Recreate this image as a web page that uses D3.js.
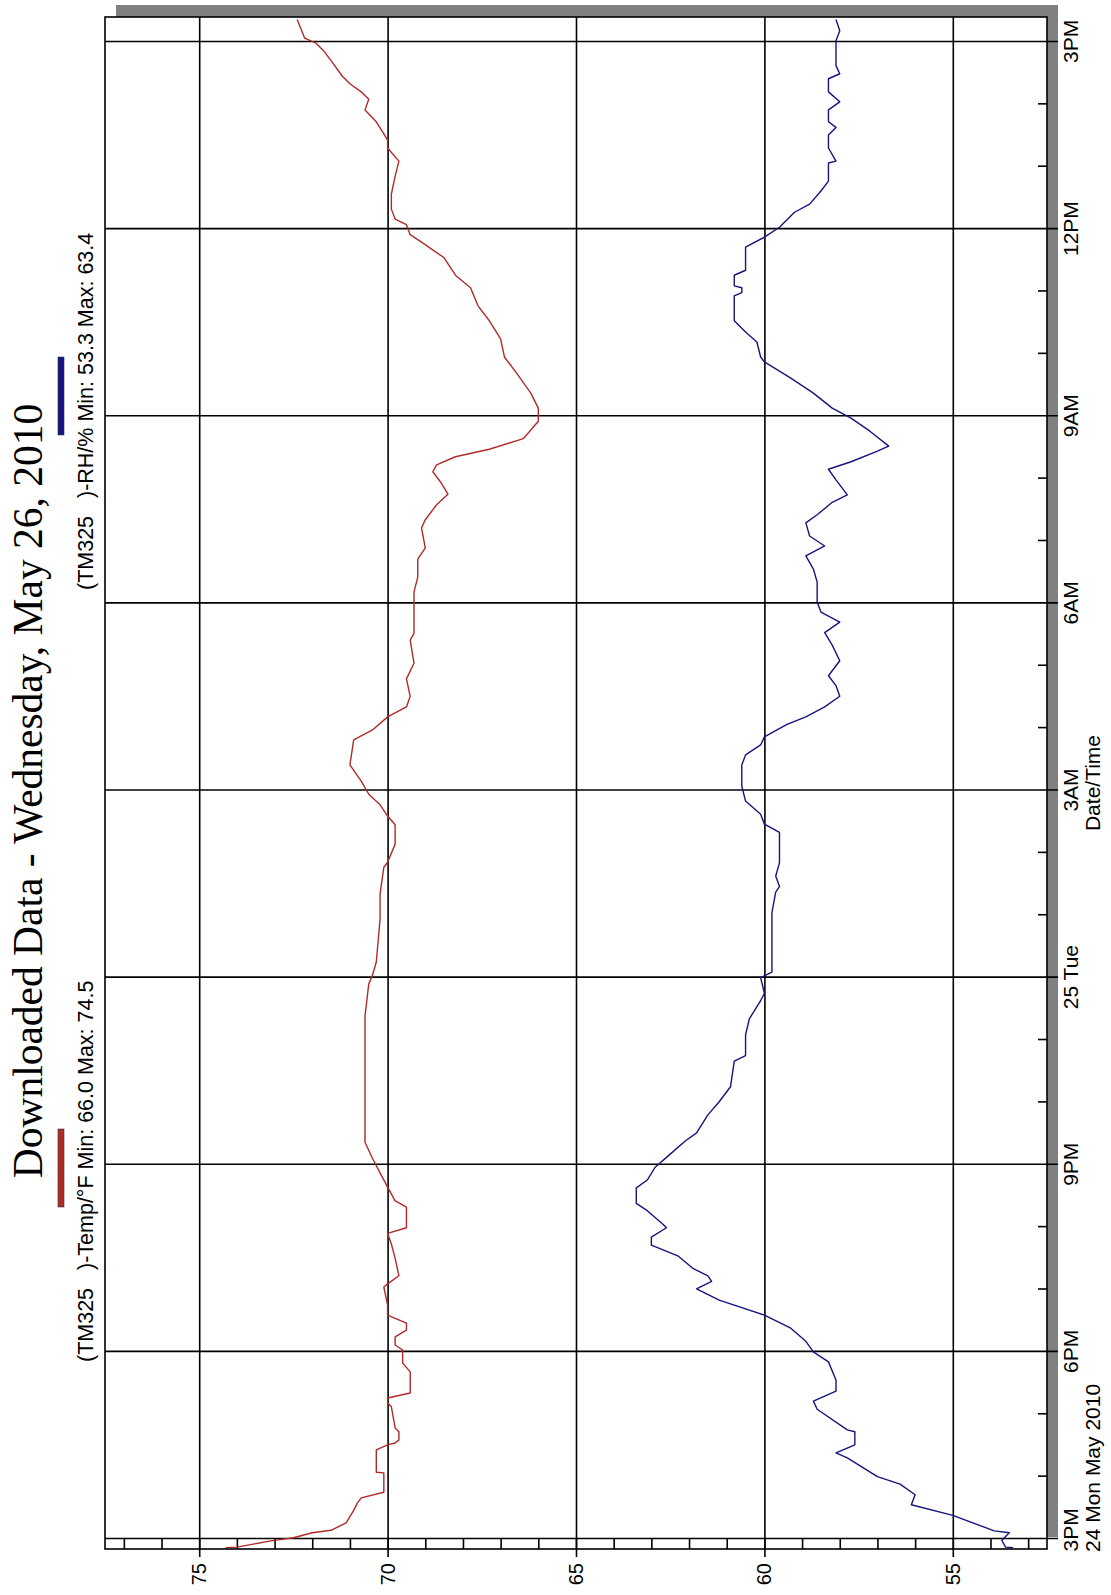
<!DOCTYPE html>
<html>
<head>
<meta charset="utf-8">
<script src="https://cdn.jsdelivr.net/npm/d3@7"></script>
<style>
  body { margin: 0; background: #fff; }
  svg { display: block; }
</style>
</head>
<body>
<div id="chart"></div>
<script>
// readings, hours after 3PM Mon 24 May 2010
const tempHours = [-0.14,-0.13,-0.03,0.02,0.10,0.14,0.26,0.46,0.58,0.66,
  0.75,1.06,1.07,1.43,1.51,1.54,1.59,1.72,1.78,2.12,
  2.18,2.26,2.34,2.68,2.82,3.03,3.11,3.24,3.35,3.46,
  3.59,3.75,4.04,4.09,4.22,4.50,4.73,4.90,4.99,5.32,
  5.42,5.64,5.87,6.10,6.36,7.70,8.38,8.90,9.04,9.25,
  9.94,10.34,10.77,10.85,11.14,11.45,11.59,11.77,11.94,12.15,
  12.41,12.81,12.97,13.18,13.34,13.51,13.79,14.04,14.41,14.52,
  14.97,15.18,15.42,15.71,15.89,16.21,16.34,16.58,16.75,16.95,
  17.11,17.22,17.35,17.47,17.64,17.92,18.13,18.37,18.71,18.95,
  19.24,19.53,19.77,20.06,20.26,20.54,20.79,20.91,21.07,21.16,
  21.32,21.56,21.85,22.09,22.30,22.43,22.72,22.91,23.08,23.20,
  23.33,23.45,23.70,23.86,23.98,24.06,24.36];
const tempValues = [74.3,74.0,73.1,72.5,72.0,71.5,71.1,70.9,70.8,70.7,
  70.1,70.1,70.3,70.3,70.0,69.8,69.7,69.7,69.8,69.9,
  70.0,70.0,69.4,69.4,69.6,69.6,69.8,69.8,69.5,69.5,
  70.0,70.0,70.1,70.0,69.7,69.8,69.9,70.0,69.5,69.5,
  69.8,70.0,70.2,70.4,70.6,70.6,70.6,70.5,70.4,70.3,
  70.2,70.2,70.1,70.0,69.8,69.8,70.0,70.2,70.5,70.7,
  71.0,70.9,70.4,70.0,69.5,69.4,69.5,69.3,69.4,69.3,
  69.3,69.3,69.2,69.2,69.0,69.1,69.0,68.7,68.4,68.6,
  68.8,68.7,68.2,67.3,66.4,66.0,66.0,66.2,66.6,66.9,
  67.0,67.3,67.6,67.8,68.2,68.5,69.1,69.4,69.5,69.8,
  69.9,69.9,69.8,69.7,70.0,70.0,70.3,70.6,70.5,70.7,
  71.0,71.2,71.5,71.7,71.9,72.2,72.4];

const rhHours = [-0.14,-0.13,-0.02,0.10,0.13,0.38,0.55,0.71,0.88,1.00,
  1.30,1.38,1.51,1.72,1.75,2.08,2.21,2.37,2.55,2.84,
  3.00,3.17,3.38,3.59,3.83,4.01,4.13,4.22,4.34,4.54,
  4.71,4.84,4.99,5.05,5.26,5.38,5.63,5.76,5.96,6.17,
  6.38,6.51,6.80,7.01,7.25,7.66,7.75,8.08,8.34,8.63,
  8.75,9.00,9.09,10.04,10.37,10.46,10.63,10.84,11.33,11.46,
  11.62,11.83,12.07,12.41,12.57,12.73,12.86,13.06,13.18,13.34,
  13.51,13.68,13.84,14.08,14.33,14.53,14.70,14.86,15.02,15.34,
  15.55,15.76,15.92,16.08,16.29,16.42,16.62,16.74,16.98,17.15,
  17.27,17.44,17.52,17.76,17.97,18.13,18.37,18.61,18.87,18.95,
  19.19,19.35,19.53,19.93,19.98,20.06,20.09,20.26,20.34,20.59,
  20.71,20.87,21.03,21.27,21.40,21.61,21.77,22.06,22.09,22.30,
  22.51,22.63,22.72,22.91,23.04,23.20,23.41,23.49,23.62,23.86,
  24.02,24.18,24.36];
const rhValues = [53.4,53.6,53.7,53.5,53.9,55.0,56.1,56.0,56.4,57.0,
  57.8,58.1,57.6,57.6,57.8,58.6,58.7,58.1,58.1,58.3,
  58.7,58.9,59.3,60.0,61.2,61.8,61.4,61.5,61.9,62.3,
  63.0,63.0,62.6,62.7,63.1,63.4,63.4,63.1,62.9,62.5,
  62.1,61.8,61.5,61.2,60.9,60.8,60.5,60.5,60.4,60.1,
  60.0,60.1,59.8,59.8,59.7,59.6,59.7,59.6,59.6,60.0,
  60.1,60.5,60.6,60.6,60.5,60.1,60.0,59.4,58.9,58.4,
  58.0,58.1,58.3,58.0,58.2,58.4,58.0,58.5,58.6,58.6,
  58.7,58.9,58.4,58.8,58.9,58.6,58.2,57.8,58.1,58.3,
  57.7,57.0,56.7,57.2,57.7,58.2,58.7,59.3,60.0,60.1,
  60.2,60.5,60.8,60.8,60.6,60.6,60.8,60.8,60.5,60.5,
  60.5,60.0,59.6,59.2,58.8,58.5,58.3,58.3,58.1,58.3,
  58.3,58.1,58.3,58.3,58.0,58.3,58.3,58.0,58.1,58.1,
  58.1,58.0,58.1];

const seriesLabels = ["(TM325   )-Temp/°F Min: 66.0 Max: 74.5", "(TM325   )-RH/% Min: 53.3 Max: 63.4"];
const seriesColors = ["#b02a2a", "#15157f"];
const valueTicks = [55, 60, 65, 70, 75];
const timeTickLabels = ["3PM", "6PM", "9PM", "25 Tue", "3AM", "6AM", "9AM", "12PM", "3PM"];

const width = 1111, height = 1595;
const sans = "'Liberation Sans', Arial, sans-serif";

// the chart is laid out landscape, then turned a quarter turn to the left
const frame = { left: 46, right: 1578, top: 105, bottom: 1047 };
const plotW = frame.right - frame.left;
const plotH = frame.bottom - frame.top;

const svg = d3.select("#chart").append("svg")
    .attr("width", width)
    .attr("height", height);

const g = svg.append("g")
    .attr("transform", `translate(0,${height}) rotate(-90)`);

const t0 = new Date(2010, 4, 24, 15);
const toDate = h => new Date(t0.getTime() + h * 3600000);

const x = d3.scaleTime()
    .domain([toDate(-0.16), toDate(24.4)])
    .range([frame.left, frame.right]);

const y = d3.scaleLinear()
    .domain([52.5, 77.5])
    .range([frame.bottom, frame.top]);

// drop shadow + plot background
g.append("rect")
    .attr("x", frame.left + 12)
    .attr("y", frame.top + 11)
    .attr("width", plotW)
    .attr("height", plotH)
    .attr("fill", "#808080");

g.append("rect")
    .attr("x", frame.left)
    .attr("y", frame.top)
    .attr("width", plotW)
    .attr("height", plotH)
    .attr("fill", "#fff");

// value grid + labels
const yAxis = g.append("g")
    .attr("transform", `translate(${frame.left - 8},0)`)
    .call(d3.axisLeft(y)
        .tickValues(valueTicks)
        .tickSize(-(plotW + 8))
        .tickPadding(6)
        .tickFormat(d3.format("d")));

// time grid + labels
const majorHours = d3.range(0, 25, 3);
const xAxis = g.append("g")
    .attr("transform", `translate(0,${frame.bottom + 11})`)
    .call(d3.axisBottom(x)
        .tickValues(majorHours.map(toDate))
        .tickSize(-(plotH + 11))
        .tickPadding(5)
        .tickFormat((d, i) => timeTickLabels[i]));

// minor ticks
g.append("g")
    .attr("transform", `translate(${frame.left},0)`)
    .call(d3.axisLeft(y)
        .tickValues(d3.range(53, 78))
        .tickSize(-10)
        .tickFormat(""));

g.append("g")
    .attr("transform", `translate(0,${frame.bottom})`)
    .call(d3.axisBottom(x)
        .tickValues(d3.range(0, 25).filter(h => h % 3 !== 0).map(toDate))
        .tickSize(-9)
        .tickFormat(""));

g.selectAll(".domain").remove();
g.selectAll(".tick line")
    .attr("stroke", "#000")
    .attr("stroke-width", 1.6);

g.selectAll(".tick text")
    .attr("fill", "#000")
    .style("font-family", sans)
    .style("font-size", "21px");

yAxis.selectAll(".tick text").style("font-size", "20px");

// first time label sits flush left, with the date under it
xAxis.selectAll(".tick text")
    .filter((d, i) => i === 0)
    .attr("text-anchor", "start")
    .attr("x", 43 - x(t0));

const line = d3.line()
    .x(d => x(d.t))
    .y(d => y(d.v));

const series = [
    tempHours.map((h, i) => ({ t: toDate(h), v: tempValues[i] })),
    rhHours.map((h, i) => ({ t: toDate(h), v: rhValues[i] }))
];

g.selectAll(".series")
    .data(series)
    .enter()
    .append("path")
    .attr("class", "series")
    .attr("fill", "none")
    .attr("stroke", (d, i) => seriesColors[i])
    .attr("stroke-width", 1.4)
    .attr("stroke-linejoin", "round")
    .attr("d", line);

g.append("rect")
    .attr("x", frame.left)
    .attr("y", frame.top)
    .attr("width", plotW)
    .attr("height", plotH)
    .attr("fill", "none")
    .attr("stroke", "#000")
    .attr("stroke-width", 1.6);

g.append("text")
    .attr("x", 43)
    .attr("y", 1100)
    .style("font-family", sans)
    .style("font-size", "21px")
    .text("24 Mon May 2010");

g.append("text")
    .attr("x", (frame.left + frame.right) / 2)
    .attr("y", 1100)
    .attr("text-anchor", "middle")
    .style("font-family", sans)
    .style("font-size", "21px")
    .text("Date/Time");

// title
g.append("text")
    .attr("x", 804)
    .attr("y", 42)
    .attr("text-anchor", "middle")
    .style("font-family", "'Liberation Serif', 'Times New Roman', serif")
    .style("font-size", "41.5px")
    .text("Downloaded Data - Wednesday, May 26, 2010");

// legend
const legendX = [233, 1005];
const legend = g.selectAll(".legend")
    .data(seriesLabels)
    .enter()
    .append("g")
    .attr("class", "legend")
    .attr("transform", (d, i) => `translate(${legendX[i]},0)`);

legend.append("rect")
    .attr("x", 155)
    .attr("y", 58)
    .attr("width", 78)
    .attr("height", 6)
    .attr("fill", (d, i) => seriesColors[i])
    .attr("stroke", "#333")
    .attr("stroke-width", 0.6);

legend.append("text")
    .attr("y", 93)
    .attr("xml:space", "preserve")
    .style("white-space", "pre")
    .style("font-family", sans)
    .style("font-size", "21.5px")
    .text(d => d);
</script>
</body>
</html>
